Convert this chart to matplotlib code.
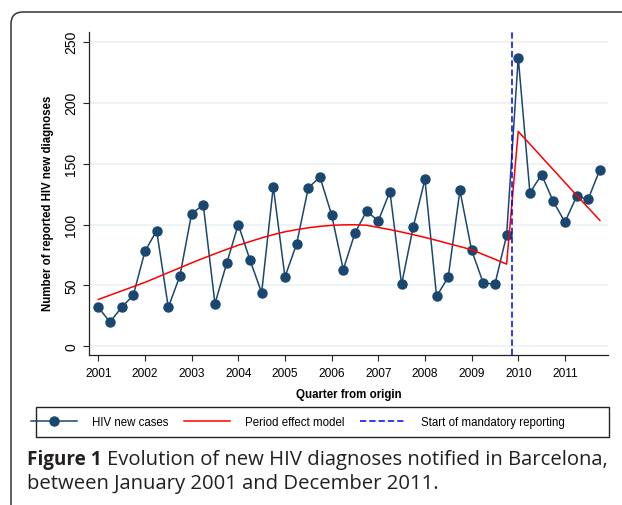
import numpy as np
import matplotlib
matplotlib.use("Agg")
import matplotlib.pyplot as plt
from matplotlib.patches import FancyBboxPatch, Rectangle

plt.rcParams['font.family'] = ['Liberation Sans', 'DejaVu Sans']
plt.rcParams['lines.scale_dashes'] = False

# data: one value per quarter, 2001Q1 .. 2011Q4
years = list(range(2001, 2012))
quarters = [1, 2, 3, 4]

hiv_cases = [32, 20, 32, 42,
             78, 95, 32, 58,
             109, 116, 35, 68,
             100, 71, 44, 131,
             57, 84, 130, 139,
             108, 63, 93, 111,
             103, 127, 51, 98,
             137, 41, 57, 128,
             79, 52, 51, 91,
             237, 126, 141, 119,
             102, 123, 121, 145]

period_model = [38.5, 42, 45.5, 49,
                52.5, 56.5, 60.5, 64.5,
                68.5, 72.3, 76, 79.6,
                83, 86, 89, 91.7,
                94, 95.8, 97.3, 98.5,
                99.3, 99.7, 99.8, 99.4,
                97.6, 95.8, 93.8, 91.7,
                89.4, 87, 84.4, 81.9,
                79.3, 75.4, 71.5, 67.5,
                176.4, 166, 155.5, 145,
                134.5, 124, 113.7, 103.4]

mandatory_start = 2009.875
yticks = [0, 50, 100, 150, 200, 250]

time = [y + (q - 1) / 4 for y in years for q in quarters]

W, H = 622, 506
fig = plt.figure(figsize=(W / 100, H / 100), dpi=100)

# outer rounded frame (cut by the image edges)
frame = FancyBboxPatch((0.11, -0.4), 7.0, H / 100 - 0.13 + 0.4,
                       boxstyle="round,pad=0,rounding_size=0.12",
                       transform=fig.dpi_scale_trans, fill=False,
                       edgecolor="#333333", linewidth=1.1)
fig.patches.append(frame)

ax_l, ax_r, ax_t, ax_b = 89.3, 608.3, 33, 356
ax = fig.add_axes([ax_l / W, 1 - ax_b / H, (ax_r - ax_l) / W, (ax_b - ax_t) / H])

navy = "#1a476f"
l_cases, = ax.plot(time, hiv_cases, color=navy, lw=1.1, marker='o', ms=6.5,
                   label="HIV new cases", zorder=3)
l_model, = ax.plot(time, period_model, color="#ff0000", lw=1.1,
                   label="Period effect model", zorder=4)
l_start = ax.axvline(mandatory_start, color="#0000ff", lw=1.1, dashes=(4.5, 2.2),
                     label="Start of mandatory reporting", zorder=5)

ax.set_xlim(2000.807, 2011.93)
ax.set_ylim(-7.1, 258)
ax.set_xticks(years)
ax.set_yticks(yticks)
for y in yticks:
    ax.axhline(y, color="#eaf2f3", lw=1.2, zorder=0)

for s in ["top", "right"]:
    ax.spines[s].set_visible(False)
for s in ["left", "bottom"]:
    ax.spines[s].set_color("#222222")
    ax.spines[s].set_linewidth(0.9)

ax.tick_params(axis='both', direction='out', length=4.3, width=0.8,
               color="#222222", labelsize=8.6, pad=4)
ax.tick_params(axis='y', labelrotation=90, labelsize=10, pad=3.5)
for lbl in ax.get_yticklabels():
    lbl.set_va('center')

fig.text(348.8 / W, 1 - 395 / H, "Quarter from origin", ha='center', va='center',
         fontsize=8.3, fontweight='bold')
fig.text(48 / W, 1 - 203 / H, "Number of reported HIV new diagnoses", ha='center',
         va='center', rotation=90, fontsize=8.3, fontweight='bold')

# legend box
fig.patches.append(Rectangle((36 / W, 1 - 437.7 / H), (609.3 - 36) / W, (437.7 - 408) / H,
                             transform=fig.transFigure, fill=False,
                             edgecolor="#222222", linewidth=1.0))
fig.legend(handles=[l_cases, l_model, l_start], ncol=3, frameon=False,
           loc='center left', bbox_to_anchor=(31 / W, 1 - 422.8 / H),
           fontsize=8.3, handlelength=4.0, handletextpad=1.25, columnspacing=1.4,
           numpoints=1, borderaxespad=0, borderpad=0)

# caption
cap_col = "#231f20"
t1 = fig.text(27 / W, 1 - 465 / H, "Figure 1", fontsize=13.6, fontweight='bold',
              family='Open Sans', color=cap_col, va='baseline')
fig.canvas.draw()
bb = t1.get_window_extent()
fig.text(bb.x1 / W + 5 / W, 1 - 465 / H, "Evolution of new HIV diagnoses notified in Barcelona,",
         fontsize=14.6, family='Open Sans', color=cap_col, va='baseline')
fig.text(27 / W, 1 - 489 / H, "between January 2001 and December 2011.", fontsize=14.6,
         family='Open Sans', color=cap_col, va='baseline')

fig.savefig("out.png", dpi=100)
